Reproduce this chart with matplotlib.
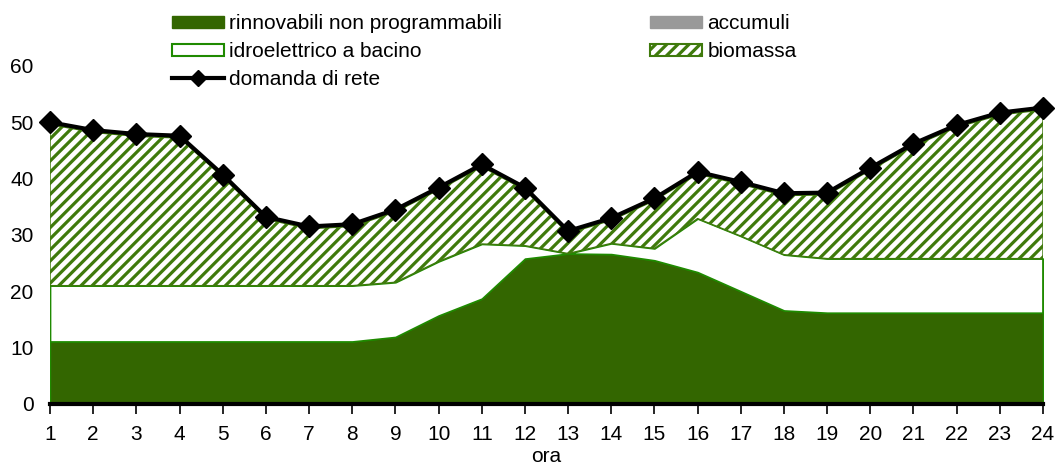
import matplotlib.pyplot as plt
from matplotlib.patches import Patch
from matplotlib.lines import Line2D

plt.rcParams['font.family'] = ['Liberation Sans', 'DejaVu Sans']
plt.rcParams['hatch.linewidth'] = 2.3

# hours of the day
ore = list(range(1, 25))

# stacked sources
rinnovabili = [11.1, 11.1, 11.1, 11.1, 11.1, 11.1, 11.1, 11.1, 11.9, 15.7, 18.7, 25.8,
               26.7, 26.6, 25.5, 23.4, 20.0, 16.6, 16.2, 16.2, 16.2, 16.2, 16.2, 16.2]
idroelettrico = [9.9, 9.9, 9.9, 9.9, 9.9, 9.9, 9.9, 9.9, 9.7, 9.6, 9.7, 2.3,
                 0.0, 1.9, 2.1, 9.5, 9.8, 9.9, 9.6, 9.6, 9.6, 9.6, 9.6, 9.6]
accumuli = [0.0] * 24
biomassa = [28.6, 27.2, 26.5, 26.2, 19.3, 11.8, 10.1, 10.5, 12.5, 12.7, 13.7, 9.9,
            3.6, 4.1, 8.5, 7.9, 9.2, 10.5, 11.3, 15.7, 20.0, 23.3, 25.5, 26.4]
domanda = [50.0, 48.6, 47.9, 47.6, 40.7, 33.2, 31.5, 31.9, 34.5, 38.4, 42.5, 38.4,
           30.7, 33.0, 36.5, 41.2, 39.4, 37.4, 37.5, 41.9, 46.2, 49.5, 51.7, 52.6]

verde_scuro = '#336600'
verde_bordo = '#1f8a00'
verde_hatch = '#3f7a0c'

fig = plt.figure(figsize=(10.58, 4.74), dpi=100)
ax = fig.add_axes([0.0473, 0.1477, 0.9385, 0.7133])

# cumulative levels
liv1 = rinnovabili
liv2 = [a + b for a, b in zip(liv1, idroelettrico)]
liv3 = [a + b for a, b in zip(liv2, accumuli)]
liv4 = [a + b for a, b in zip(liv3, biomassa)]

ax.fill_between(ore, 0, liv1, facecolor=verde_scuro, edgecolor=verde_bordo, linewidth=1)
ax.fill_between(ore, liv1, liv2, facecolor='white', edgecolor=verde_bordo, linewidth=1.2)
ax.fill_between(ore, liv2, liv3, facecolor='#999999', linewidth=0)
ax.fill_between(ore, liv3, liv4, facecolor='white', edgecolor=verde_hatch, hatch='///', linewidth=1)
# vertical edges of the hydro band
ax.plot([1, 1], [liv1[0], liv2[0]], color=verde_bordo, lw=1.2)
ax.plot([24, 24], [liv1[-1], liv2[-1]], color=verde_bordo, lw=1.2)

ax.plot(ore, domanda, color='black', lw=3, marker='D', markersize=11.5, clip_on=False, zorder=5)

ax.set_xlim(1, 24)
ax.set_ylim(0, 60)
ax.set_xticks(ore)
ax.set_yticks(range(0, 61, 10))
for s in ['top', 'right', 'left']:
    ax.spines[s].set_visible(False)
ax.spines['bottom'].set_linewidth(3)
ax.spines['bottom'].set_zorder(6)
ax.tick_params(axis='x', direction='out', length=7, width=1.2, labelsize=15, pad=8)
ax.tick_params(axis='y', length=0, labelsize=15, pad=12)
ax.set_xlabel('ora', fontsize=15, labelpad=2)

# legend in two columns
h1 = [Patch(facecolor=verde_scuro, edgecolor=verde_scuro),
      Patch(facecolor='white', edgecolor=verde_bordo, linewidth=1.5),
      Line2D([], [], color='black', lw=3, marker='D', markersize=8)]
l1 = ['rinnovabili non programmabili', 'idroelettrico a bacino', 'domanda di rete']
h2 = [Patch(facecolor='#999999', edgecolor='#999999'),
      Patch(facecolor='white', edgecolor=verde_hatch, hatch='///', linewidth=1.5)]
l2 = ['accumuli', 'biomassa']
kw = dict(frameon=False, fontsize=15, handlelength=2.5, handleheight=0.5,
          handletextpad=0.25, labelspacing=0.43, borderpad=0, borderaxespad=0)
fig.legend(h1, l1, loc='upper left', bbox_to_anchor=(172 / 1058, 1 - 14 / 474), **kw)
fig.legend(h2, l2, loc='upper left', bbox_to_anchor=(650 / 1058, 1 - 14 / 474), **kw)

fig.savefig('out.png', dpi=100)
